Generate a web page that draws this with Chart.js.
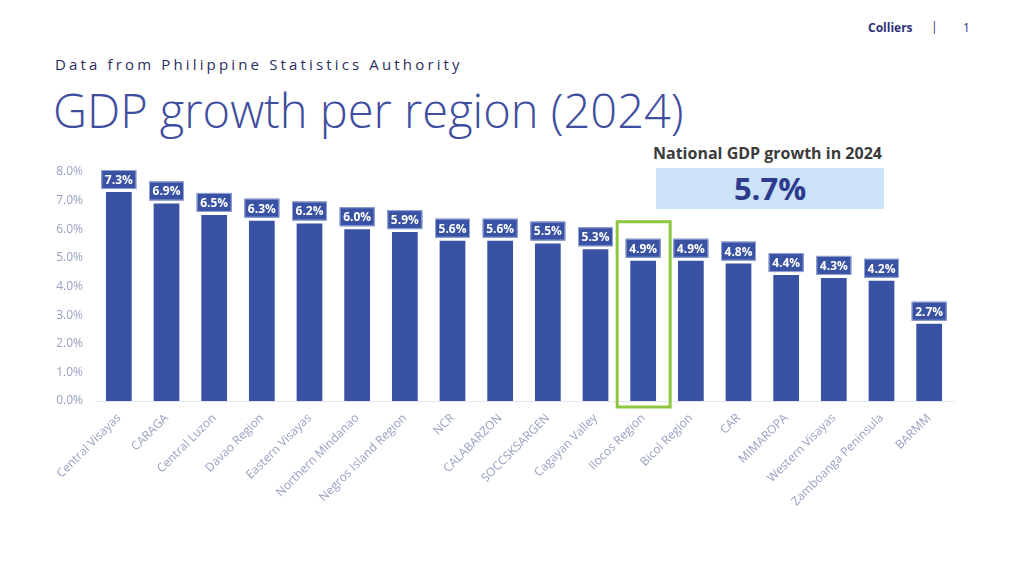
<!DOCTYPE html>
<html>
<head>
<meta charset="utf-8">
<script src="https://cdn.jsdelivr.net/npm/chart.js@4"></script>
<style>
  html, body { margin: 0; padding: 0; background: #fff; }
  body { width: 1024px; height: 576px; position: relative; overflow: hidden; font-family: "Open Sans", sans-serif; }
  .brand { position: absolute; top: 19px; left: 868px; font-size: 12px; font-weight: 700; color: #2e2f7a; }
  .sep { position: absolute; top: 18px; left: 931px; font-size: 12px; color: #2e2f7a; }
  .page { position: absolute; top: 19px; left: 963px; font-size: 12px; color: #2e2f7a; }
  .sub { position: absolute; top: 54px; left: 55px; font-size: 15px; letter-spacing: 3.15px; color: #2b2d5e; }
  .title { position: absolute; top: 78px; left: 53px; font-size: 47px; font-weight: 300; color: #3f4d9e; white-space: nowrap; }
  .natl { position: absolute; top: 142px; left: 653px; font-size: 16px; font-weight: 700; color: #3b3b3b; }
  .natbox { position: absolute; top: 168px; left: 656px; width: 228px; height: 41px; background: #cce2f6; color: #2e3a8c;
            font-size: 31px; font-weight: 700; text-align: center; line-height: 41px; }
  #wrap { position: absolute; left: 0; top: 0; width: 1024px; height: 576px; }
</style>
</head>
<body>
<div class="brand">Colliers</div>
<div class="sep">|</div>
<div class="page">1</div>
<div class="sub">Data from Philippine Statistics Authority</div>
<div class="title">GDP growth per region (2024)</div>
<div class="natl">National GDP growth in 2024</div>
<div class="natbox">5.7%</div>
<div id="wrap"><canvas id="myChart"></canvas></div>
<script>
const regions = ['Central Visayas', 'CARAGA', 'Central Luzon', 'Davao Region', 'Eastern Visayas',
  'Northern Mindanao', 'Negros Island Region', 'NCR', 'CALABARZON', 'SOCCSKSARGEN', 'Cagayan Valley',
  'Ilocos Region', 'Bicol Region', 'CAR', 'MIMAROPA', 'Western Visayas', 'Zamboanga Peninsula', 'BARMM'];
const growth = [7.3, 6.9, 6.5, 6.3, 6.2, 6.0, 5.9, 5.6, 5.6, 5.5, 5.3, 4.9, 4.9, 4.8, 4.4, 4.3, 4.2, 2.7];
const highlight = 'Ilocos Region';

const barBlue = '#3a52a3';

// value boxes above each bar
const valueBoxes = {
  id: 'valueBoxes',
  afterDatasetsDraw(chart) {
    const ctx = chart.ctx;
    const meta = chart.getDatasetMeta(0);
    ctx.save();
    ctx.font = 'bold 12px "Open Sans"';
    ctx.textAlign = 'center';
    ctx.textBaseline = 'middle';
    meta.data.forEach((bar, i) => {
      const w = 35, h = 19;
      const x = bar.x - w / 2, y = bar.y - 3 - h;
      ctx.fillStyle = barBlue;
      ctx.fillRect(x, y, w, h);
      ctx.strokeStyle = '#95a4d6';
      ctx.lineWidth = 1;
      ctx.strokeRect(x + 0.5, y + 0.5, w - 1, h - 1);
      ctx.fillStyle = '#fff';
      ctx.fillText(growth[i].toFixed(1) + '%', bar.x, y + h / 2 + 1);
    });
    // green frame on highlighted region
    const idx = regions.indexOf(highlight);
    const b = meta.data[idx];
    ctx.strokeStyle = '#8dc63f';
    ctx.lineWidth = 3;
    ctx.strokeRect(b.x - 26, b.y - 39, 53, chart.scales.y.getPixelForValue(0) - b.y + 45);
    ctx.restore();
  }
};

new Chart(document.getElementById('myChart'), {
  type: 'bar',
  data: {
    labels: regions,
    datasets: [{
      data: growth,
      backgroundColor: barBlue,
      barPercentage: 0.54,
      categoryPercentage: 1,
    }],
  },
  options: {
    responsive: true,
    maintainAspectRatio: false,
    animation: false,
    layout: { padding: { left: 0, right: 71, top: 172, bottom: 0 } },
    plugins: { legend: { display: false }, tooltip: { enabled: false } },
    scales: {
      x: {
        grid: { display: false },
        border: { display: true, color: '#e4e6ef', width: 1 },
        ticks: {
          color: '#97a0c2',
          font: { family: 'Open Sans', size: 12 },
          minRotation: 45,
          maxRotation: 45,
          autoSkip: false,
          padding: 2,
        },
        afterFit(scale) { scale.height = 175; },
      },
      y: {
        min: 0,
        max: 8,
        grid: { display: false },
        border: { display: false },
        ticks: {
          stepSize: 1,
          color: '#97a0c2',
          font: { family: 'Open Sans', size: 12 },
          padding: 4,
          callback: (v) => v.toFixed(1) + '%',
        },
        afterFit(scale) { scale.width = 95; },
      },
    },
  },
  plugins: [valueBoxes],
});
</script>
</body>
</html>
